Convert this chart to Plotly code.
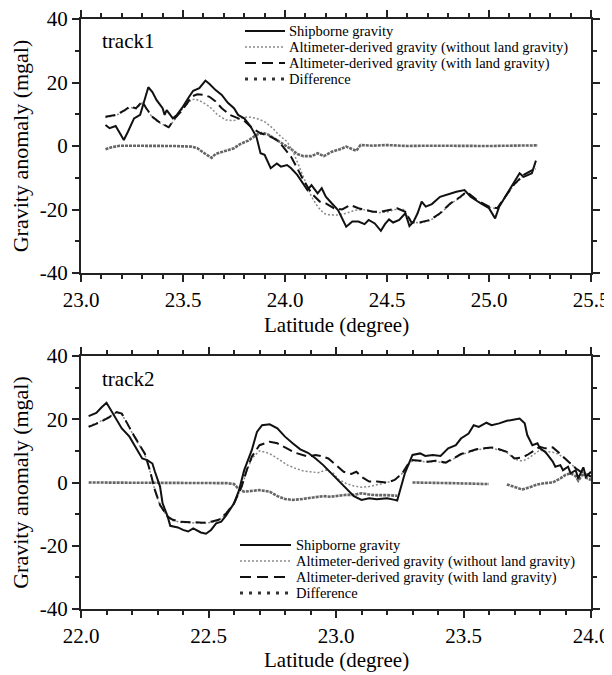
import plotly.graph_objects as go

# ---------------- data: track1 ----------------
lat1_ship = [23.12,23.14,23.17,23.21,23.23,23.26,23.29,23.31,23.33,23.35,23.37,23.40,23.41,23.42,23.45,23.47,23.50,23.53,23.55,23.58,
             23.61,23.63,23.66,23.69,23.72,23.75,23.77,23.80,23.83,23.86,23.88,23.90,23.93,23.96,23.98,24.01,24.03,24.06,24.08,24.11,
             24.13,24.16,24.18,24.20,24.23,24.26,24.30,24.33,24.36,24.39,24.41,24.44,24.47,24.49,24.51,24.53,24.56,24.59,24.61,24.63,
             24.65,24.67,24.69,24.72,24.76,24.81,24.84,24.88,24.91,24.96,25.00,25.03,25.05,25.09,25.12,25.15,25.17,25.21,25.23]
val1_ship = [6.6,5.6,6.3,1.9,4.5,8.7,9.8,14.5,18.5,17.0,14.5,11.9,9.8,11.3,8.7,9.8,12.4,15.5,17.4,18.2,
             20.6,19.5,17.6,16.1,13.6,11.9,9.8,8.7,6.3,2.9,-2.3,-2.8,-7.0,-5.5,-6.5,-6.0,-7.0,-9.1,-11.2,-13.9,
             -12.3,-14.9,-13.3,-16.0,-18.1,-20.2,-25.4,-23.8,-23.8,-24.6,-23.3,-24.4,-26.7,-24.6,-23.1,-24.1,-23.3,-21.2,-25.2,-23.8,
             -21.2,-17.5,-19.1,-18.3,-16.0,-14.9,-14.4,-13.9,-16.0,-18.1,-19.6,-22.8,-19.1,-14.9,-11.7,-8.6,-9.7,-8.6,-4.6]

lat1_wo = [23.12,23.17,23.21,23.24,23.27,23.30,23.32,23.35,23.38,23.41,23.43,23.46,23.50,23.54,23.56,23.59,23.63,23.67,23.71,23.75,
           23.78,23.82,23.86,23.90,23.94,23.97,24.01,24.04,24.07,24.10,24.13,24.16,24.19,24.22,24.26,24.30,24.34,24.38,24.42,24.46,
           24.50,24.54,24.58,24.62,24.66,24.71,24.76,24.81,24.86,24.89,24.94,25.00,25.04,25.08,25.12,25.17,25.23]
val1_wo = [9.0,9.6,10.9,12.2,11.7,13.6,11.7,9.0,7.5,6.4,5.8,8.5,11.9,14.5,14.8,14.0,12.4,9.8,8.2,8.0,
           8.7,9.2,8.7,7.7,5.6,3.5,1.4,-1.8,-6.5,-11.2,-16.0,-19.1,-21.2,-21.7,-21.7,-21.2,-20.3,-20.0,-20.5,-21.0,
           -20.8,-20.0,-20.0,-23.8,-24.3,-23.5,-21.4,-18.3,-16.2,-14.6,-17.2,-19.3,-19.8,-16.2,-12.5,-9.3,-7.2]

lat1_with = [23.12,23.17,23.21,23.24,23.27,23.30,23.32,23.35,23.38,23.41,23.43,23.46,23.49,23.52,23.54,23.57,23.60,23.63,23.66,23.69,
             23.73,23.76,23.80,23.84,23.88,23.92,23.96,23.99,24.03,24.06,24.09,24.13,24.17,24.20,24.24,24.28,24.32,24.36,24.40,24.43,
             24.47,24.51,24.55,24.59,24.62,24.66,24.71,24.76,24.81,24.86,24.89,24.94,25.00,25.04,25.08,25.12,25.17,25.23]
val1_with = [9.2,9.8,11.1,12.4,11.9,14.0,11.9,9.2,7.7,6.6,5.9,8.7,10.8,13.4,15.5,16.3,16.1,15.5,14.0,11.9,
             9.8,9.0,8.0,5.6,4.0,3.2,1.9,-0.2,-3.4,-7.0,-10.7,-14.9,-17.5,-18.1,-19.6,-20.0,-18.6,-19.6,-20.2,-20.7,
             -20.7,-20.2,-19.6,-20.7,-24.1,-24.1,-23.3,-21.2,-18.1,-16.0,-14.4,-17.0,-19.1,-19.6,-16.0,-12.3,-9.1,-7.0]

lat1_diff = [23.12,23.15,23.19,23.27,23.36,23.46,23.54,23.57,23.61,23.64,23.66,23.70,23.75,23.78,23.82,23.86,23.89,23.92,23.96,23.99,
             24.03,24.06,24.09,24.13,24.16,24.19,24.23,24.27,24.30,24.33,24.35,24.37,24.43,24.50,24.60,24.70,24.80,24.90,25.00,25.10,25.24]
val1_diff = [-1.0,-0.4,0.1,0.1,0.0,0.0,-0.2,-0.7,-2.5,-3.7,-2.5,-1.8,-0.7,0.6,1.7,3.5,4.2,3.5,1.9,0.6,
             -1.0,-2.5,-3.2,-3.2,-2.3,-3.2,-1.8,-1.0,-0.2,-1.0,-1.5,0.3,0.1,0.3,0.0,0.1,0.0,0.0,0.0,0.1,0.2]

# ---------------- data: track2 ----------------
lat2_ship = [22.03,22.06,22.08,22.10,22.11,22.14,22.16,22.19,22.21,22.24,22.26,22.28,22.29,22.31,22.32,22.34,22.35,22.38,22.40,22.42,
             22.44,22.47,22.49,22.51,22.53,22.55,22.57,22.60,22.62,22.64,22.67,22.69,22.71,22.74,22.77,22.80,22.83,22.86,22.89,22.92,
             22.95,22.98,23.01,23.04,23.07,23.10,23.13,23.16,23.20,23.23,23.24,23.27,23.30,23.33,23.35,23.38,23.41,23.44,23.47,23.49,
             23.52,23.54,23.56,23.59,23.61,23.64,23.67,23.70,23.72,23.74,23.75,23.77,23.79,23.80,23.82,23.83,23.85,23.86,23.88,23.89,
             23.91,23.92,23.94,23.95,23.97,23.98,24.00]
val2_ship = [21.0,22.0,23.7,25.2,23.9,19.7,17.1,14.5,11.8,7.6,7.1,6.0,3.4,-1.3,-6.6,-10.8,-13.7,-14.2,-15.0,-15.5,
             -14.5,-15.8,-16.2,-15.0,-12.9,-12.4,-10.3,-6.6,-2.4,3.9,10.3,16.0,18.1,18.4,17.1,14.5,12.4,10.5,9.4,7.6,
             5.5,3.1,0.6,-1.8,-4.3,-5.5,-5.0,-5.3,-5.0,-5.5,-5.7,2.9,8.7,9.2,8.4,8.7,8.4,10.8,11.8,13.9,
             15.5,18.1,17.6,18.9,18.1,18.7,19.5,19.9,20.2,18.7,15.0,11.8,12.4,10.8,9.7,8.7,6.6,5.0,5.5,3.9,
             5.0,2.9,3.9,1.3,4.8,1.8,3.4]

lat2_wo = [22.03,22.07,22.11,22.14,22.16,22.18,22.21,22.25,22.27,22.29,22.31,22.34,22.36,22.39,22.43,22.48,22.51,22.54,22.57,22.60,
           22.63,22.65,22.67,22.70,22.73,22.75,22.78,22.81,22.84,22.87,22.90,22.93,22.96,22.99,23.01,23.04,23.07,23.10,23.13,23.16,
           23.20,23.23,23.26,23.28,23.30,23.33,23.36,23.39,23.43,23.46,23.49,23.52,23.55,23.58,23.61,23.64,23.67,23.70,23.73,23.75,
           23.78,23.80,23.82,23.85,23.87,23.89,23.92,23.94,23.96,23.98,24.00]
val2_wo = [17.8,19.1,20.8,22.1,21.6,18.5,14.3,9.0,3.7,-2.6,-7.3,-11.0,-12.0,-12.6,-12.8,-12.9,-12.6,-12.0,-9.9,-6.8,
           -1.5,3.7,7.6,10.0,9.4,8.7,7.1,5.5,4.5,3.7,3.4,3.1,3.9,2.9,1.0,-0.3,-1.1,-1.5,-1.3,-0.8,
           0.0,0.8,2.9,5.3,6.9,6.7,6.4,6.7,6.1,7.4,8.8,9.5,10.3,10.6,10.9,10.3,9.5,7.4,6.8,7.4,
           9.0,10.3,9.8,9.6,9.0,8.0,6.0,4.5,3.4,2.9,1.8]

lat2_with = [22.03,22.07,22.11,22.14,22.16,22.18,22.21,22.25,22.27,22.29,22.31,22.34,22.36,22.39,22.43,22.48,22.51,22.54,22.57,22.60,
             22.63,22.65,22.67,22.70,22.74,22.77,22.80,22.84,22.89,22.92,22.94,22.97,23.00,23.03,23.06,23.08,23.10,23.13,23.16,23.20,
             23.23,23.26,23.28,23.30,23.33,23.36,23.39,23.43,23.46,23.49,23.52,23.55,23.58,23.61,23.64,23.67,23.70,23.73,23.75,23.78,
             23.80,23.82,23.85,23.87,23.89,23.92,23.94,23.96,23.98,24.00]
val2_with = [17.6,18.9,20.6,22.3,21.8,18.7,14.5,9.2,3.9,-2.4,-7.1,-10.8,-11.8,-12.4,-12.6,-12.7,-12.4,-11.8,-9.7,-6.6,
             -1.3,3.9,8.2,11.8,12.9,12.4,11.1,9.4,8.2,8.7,8.4,7.6,5.5,3.4,2.7,3.4,1.8,0.3,0.3,0.0,
             0.8,2.9,5.5,7.1,6.9,6.6,6.9,6.3,7.6,9.0,9.7,10.5,10.8,11.1,10.5,9.7,7.6,7.9,8.7,10.3,
             11.3,10.8,11.1,9.7,8.2,6.0,4.5,3.4,2.9,1.8]

lat2_diff = [22.03,22.10,22.20,22.30,22.40,22.50,22.57,22.60,22.62,22.64,22.67,22.70,22.74,22.77,22.80,22.83,22.86,22.89,22.92,22.95,
             22.98,23.01,23.04,23.07,23.10,23.13,23.16,23.20,23.24,23.27,23.30,23.35,23.40,23.45,23.50,23.55,23.60,23.64,23.67,23.69,
             23.73,23.76,23.79,23.82,23.85,23.88,23.90,23.92,23.94,23.95,23.97,23.98,24.00]
val2_diff = [0.0,0.0,0.0,0.0,0.0,0.0,-0.2,-0.5,-2.2,-2.9,-2.6,-2.4,-2.9,-4.3,-5.2,-5.5,-5.3,-5.0,-4.5,-4.3,
             -4.5,-4.2,-3.9,-3.9,-3.4,-3.8,-4.0,-4.0,-4.2,None,0.0,0.0,-0.1,-0.2,-0.3,-0.4,-0.5,None,-0.6,-1.2,
             -2.2,-1.5,-0.6,-0.2,0.0,1.3,2.4,2.9,2.0,0.6,2.9,1.5,0.8]

series_names = ["Shipborne gravity",
                "Altimeter-derived gravity (without land gravity)",
                "Altimeter-derived gravity (with land gravity)",
                "Difference"]
panel_labels = ["track1", "track2"]
x_title = "Latitude (degree)"
y_title = "Gravity anomaly (mgal)"
y_tickvals = [-40, -20, 0, 20, 40]
y_ticktext = ["-40", "-20", "0", "20", "40"]

# ---------------- layout geometry ----------------
# the page body has an 8px default margin, so the figure is sized to fill the rest of the window
OFF = 8
W, H = 612 - OFF, 675 - OFF
ML, MR, MT, MB = 81 - OFF, 21, 19 - OFF, 66
PW, PH = W - ML - MR, H - MT - MB
FONT = "Liberation Serif"

styles = [
    dict(color="#111111", width=2),
    dict(color="#8a8a8a", width=1.5, dash="2px,2px"),
    dict(color="#111111", width=2, dash="10px,5px"),
    dict(color="#666666", width=2.6, dash="3px,1px"),
]


def xp(px):
    # window pixel -> paper fraction
    return (px - OFF - ML) / PW


def yp(py):
    return (H - MB - (py - OFF)) / PH


fig = go.Figure()
panels = [
    ("x", "y", [(lat1_ship, val1_ship), (lat1_wo, val1_wo), (lat1_with, val1_with), (lat1_diff, val1_diff)]),
    ("x2", "y2", [(lat2_ship, val2_ship), (lat2_wo, val2_wo), (lat2_with, val2_with), (lat2_diff, val2_diff)]),
]
order = [3, 1, 2, 0]
for xa, ya, series in panels:
    for i in order:
        xs, ys = series[i]
        fig.add_trace(go.Scatter(x=xs, y=ys, xaxis=xa, yaxis=ya, mode="lines",
                                 line=styles[i], name=series_names[i], showlegend=False,
                                 connectgaps=False, hoverinfo="skip"))

axcol = "#222222"
common = dict(showline=True, linecolor=axcol, linewidth=2, mirror="allticks",
              ticks="outside", ticklen=7, tickwidth=1.5, tickcolor=axcol,
              showgrid=False, zeroline=False, automargin=False, ticklabeloverflow="allow",
              tickfont=dict(family=FONT, size=21, color="black"),
              minor=dict(ticks="outside", ticklen=4, tickwidth=1.5, tickcolor=axcol, showgrid=False))

top_dom = [yp(273), 1.0]
bot_dom = [0.0, yp(356)]

fig.update_layout(
    width=W, height=H, margin=dict(l=ML, r=MR, t=MT, b=MB),
    plot_bgcolor="white", paper_bgcolor="white",
    font=dict(family=FONT, color="black"),
    xaxis=dict(common, range=[23.0, 25.5], dtick=0.5, tick0=23.0, tickformat=".1f",
               anchor="y", domain=[0, 1]),
    yaxis=dict(common, range=[-40, 40], tickmode="array", tickvals=y_tickvals, ticktext=y_ticktext,
               anchor="x", domain=top_dom,
               title=dict(text=y_title, font=dict(family=FONT, size=22), standoff=8)),
    xaxis2=dict(common, range=[22.0, 24.0], dtick=0.5, tick0=22.0, tickformat=".1f",
                anchor="y2", domain=[0, 1]),
    yaxis2=dict(common, range=[-40, 40], tickmode="array", tickvals=y_tickvals, ticktext=y_ticktext,
                anchor="x2", domain=bot_dom,
                title=dict(text=y_title, font=dict(family=FONT, size=22), standoff=8)),
)
fig.update_xaxes(minor=dict(dtick=0.1))
fig.update_yaxes(minor=dict(dtick=10, tick0=0))

# x-axis titles placed precisely
for py in [325, 660]:
    fig.add_annotation(text=x_title, xref="paper", yref="paper", x=0.5, y=yp(py),
                       xanchor="center", yanchor="middle", showarrow=False,
                       font=dict(family=FONT, size=21, color="black"))

# panel labels
for lab, py in zip(panel_labels, [41, 379]):
    fig.add_annotation(text=lab, xref="paper", yref="paper", x=xp(100), y=yp(py),
                       xanchor="left", yanchor="middle", showarrow=False,
                       font=dict(family=FONT, size=21, color="black"))

# legends (drawn manually to match compact spacing)
leg_samples = [
    dict(color="#111111", width=2),
    dict(color="#8a8a8a", width=1.5, dash="2px,2px"),
    dict(color="#111111", width=2.2, dash="11px,6px"),
    dict(color="#333333", width=3, dash="3px,6px"),
]
legend_boxes = [
    dict(x0=245, x1=285, xt=287, rows=[31, 47, 63, 79]),
    dict(x0=240, x1=291, xt=294, rows=[545, 561, 577, 593]),
]
for box in legend_boxes:
    for name, st, py in zip(series_names, leg_samples, box["rows"]):
        fig.add_shape(type="line", xref="paper", yref="paper",
                      x0=xp(box["x0"]), x1=xp(box["x1"]), y0=yp(py), y1=yp(py), line=st)
        fig.add_annotation(text=name, xref="paper", yref="paper", x=xp(box["xt"]), y=yp(py),
                           xanchor="left", yanchor="middle", showarrow=False,
                           font=dict(family=FONT, size=14.5, color="black"))

fig.write_html("out.html")
